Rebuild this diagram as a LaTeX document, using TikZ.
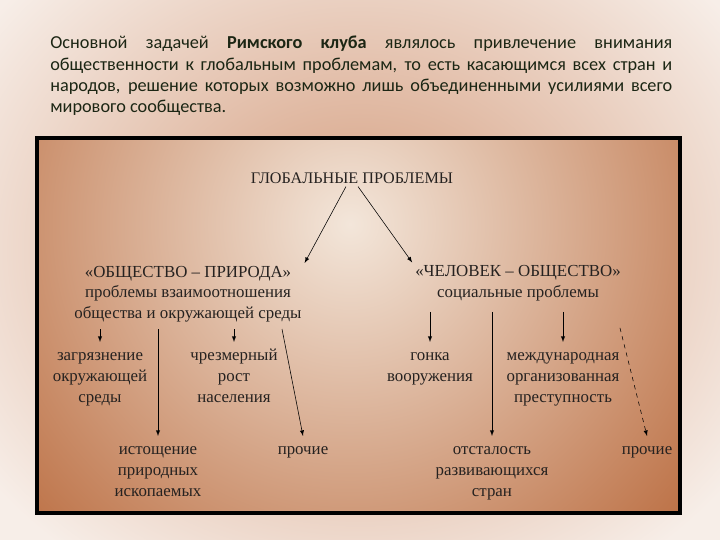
\documentclass[tikz,border=0pt]{standalone}
\usepackage{fontspec}
\setmainfont{Liberation Serif}
\newfontfamily\parafont{Carlito}
\usepackage{tikz}
\usetikzlibrary{arrows}
\definecolor{paper}{HTML}{F7EEE8}
\definecolor{tanmid}{HTML}{D39A7A}
\definecolor{boardlight}{HTML}{F3E6DA}
\definecolor{boarddark}{HTML}{BD7247}
\definecolor{inkgreen}{HTML}{1C2614}
\definecolor{ink}{HTML}{262220}
\tikzstyle{para}=[anchor=north west, inner sep=0pt, text width=15.55cm, align=justify, text=inkgreen, font=\parafont\fontsize{13}{15.2}\selectfont]
\tikzstyle{frame}=[draw=black, line width=2.2pt]
\tikzstyle{head}=[inner sep=2pt, text=ink, font=\fontsize{11.5}{14}\selectfont]
\tikzstyle{group}=[inner sep=2pt, align=center, text=ink, font=\fontsize{12}{14.6}\selectfont]
\tikzstyle{item}=[anchor=north, inner sep=2pt, align=center, text=ink, font=\fontsize{12}{15.2}\selectfont]
\tikzstyle{edge}=[->, thin, -latex]
\tikzstyle{dashedge}=[->, thin, dashed, -latex]

\begin{document}
\begin{tikzpicture}
	\useasboundingbox (0,0) rectangle (18,13.5);
	% background
	\fill[paper] (0,0) rectangle (18,13.5);
	\shade[inner color=tanmid, outer color=paper] (-2.5,-2.5) rectangle (20.5,17);
	\begin{scope}
		\clip (0.925,0.675) rectangle (17.0,10.05);
		\shade[inner color=boardlight, outer color=boarddark] (8.75,7.9) circle (11);
	\end{scope}
	\draw[frame] (0.925,0.675) rectangle (17.0,10.05);
	%
	\draw (1.25,12.6) node[para] (intro) {Основной задачей \textbf{Римского клуба} являлось привлечение внимания\linebreak
		общественности к глобальным проблемам, то есть касающимся всех стран и\linebreak
		народов, решение которых возможно лишь объединенными усилиями всего\linebreak
		мирового сообщества.};
	%
	\draw (8.8,9.05) node[head] (glob) {ГЛОБАЛЬНЫЕ ПРОБЛЕМЫ};
	\draw (4.7,6.15) node[group] (nature) {«ОБЩЕСТВО – ПРИРОДА»\\проблемы взаимоотношения\\общества и окружающей среды};
	\draw (12.95,6.42) node[group] (social) {«ЧЕЛОВЕК – ОБЩЕСТВО»\\социальные проблемы};
	\draw[edge] ([xshift=-0.15cm]glob.south) -- (nature.north east);
	\draw[edge] ([xshift=0.15cm]glob.south) -- (social.north west);
	%
	\draw (2.5,4.95) node[item] (pollut) {\strut загрязнение\\окружающей\\среды};
	\draw (5.85,4.95) node[item] (growth) {\strut чрезмерный\\рост\\населения};
	\draw (3.95,2.6) node[item] (deplet) {\strut истощение\\природных\\ископаемых};
	\draw (7.575,2.6) node[item] (othL) {\strut прочие};
	\draw[edge] ([yshift=-0.1cm]nature.south -| pollut.north) -- (pollut.north);
	\draw[edge] ([yshift=-0.1cm]nature.south -| deplet.north) -- (deplet.north);
	\draw[edge] ([yshift=-0.1cm]nature.south -| growth.north) -- (growth.north);
	\draw[edge] ([shift={(2.35,-0.1)}]nature.south) -- (othL.north);
	%
	\draw (10.75,4.95) node[item] (arms) {\strut гонка\\вооружения};
	\draw (12.3,2.6) node[item] (lag) {\strut отсталость\\развивающихся\\стран};
	\draw (14.075,4.95) node[item] (crime) {\strut международная\\организованная\\преступность};
	\draw (16.175,2.6) node[item] (othR) {\strut прочие};
	\draw[edge] ([yshift=-0.2cm]social.south -| arms.north) -- (arms.north);
	\draw[edge] ([yshift=-0.2cm]social.south -| lag.north) -- (lag.north);
	\draw[edge] ([yshift=-0.2cm]social.south -| crime.north) -- (crime.north);
	\draw[dashedge] ([shift={(2.55,-0.6)}]social.south) -- (othR.north);
\end{tikzpicture}
\end{document}
